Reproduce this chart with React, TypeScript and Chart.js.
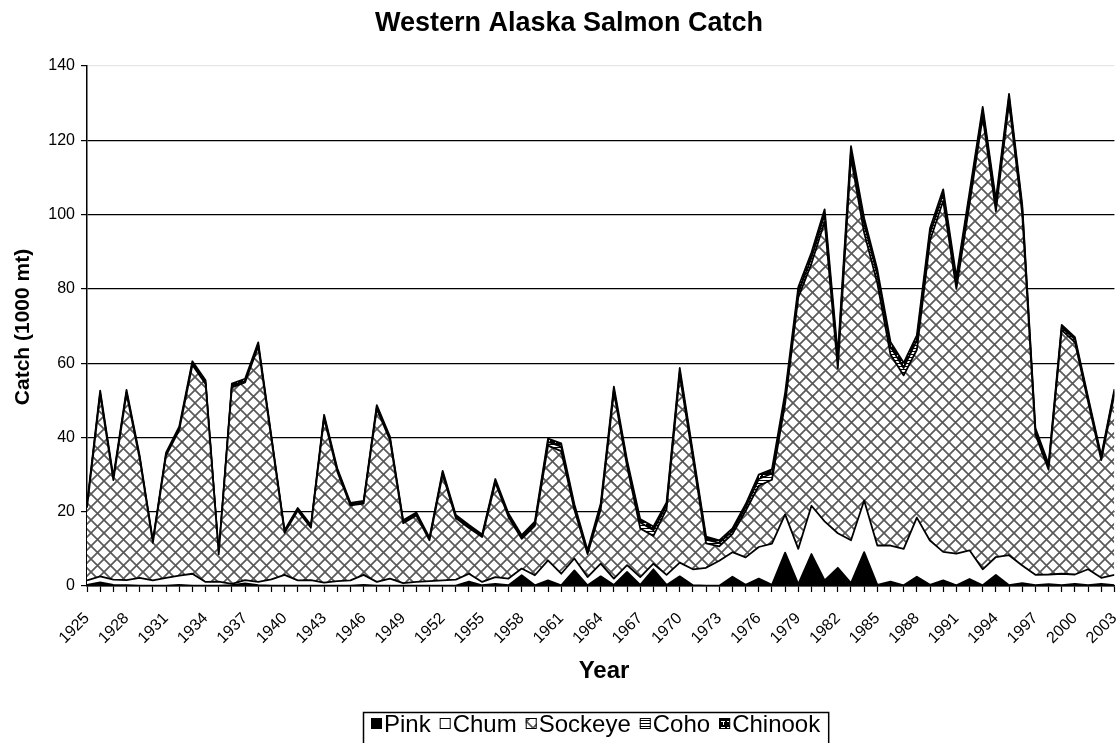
import { useEffect, useRef } from "react";
import { Chart, registerables } from "chart.js";

Chart.register(...registerables);

const TITLE = "Western Alaska Salmon Catch";
const X_TITLE = "Year";
const Y_TITLE = "Catch (1000 mt)";
const FONT = "Arial, 'Liberation Sans', Helvetica, sans-serif";

const years: number[] = [
  1925, 1926, 1927, 1928, 1929, 1930, 1931, 1932, 1933, 1934,
  1935, 1936, 1937, 1938, 1939, 1940, 1941, 1942, 1943, 1944,
  1945, 1946, 1947, 1948, 1949, 1950, 1951, 1952, 1953, 1954,
  1955, 1956, 1957, 1958, 1959, 1960, 1961, 1962, 1963, 1964,
  1965, 1966, 1967, 1968, 1969, 1970, 1971, 1972, 1973, 1974,
  1975, 1976, 1977, 1978, 1979, 1980, 1981, 1982, 1983, 1984,
  1985, 1986, 1987, 1988, 1989, 1990, 1991, 1992, 1993, 1994,
  1995, 1996, 1997, 1998, 1999, 2000, 2001, 2002, 2003,
];

const xTickLabels: string[] = [
  "1925", "1928", "1931", "1934", "1937", "1940", "1943", "1946", "1949",
  "1952", "1955", "1958", "1961", "1964", "1967", "1970", "1973", "1976",
  "1979", "1982", "1985", "1988", "1991", "1994", "1997", "2000", "2003",
];

const pink: number[] = [
  0.3, 1.0, 0.3, 0.2, 0.1, 0.1, 0.1, 0.3, 0.1, 0.1,
  0.1, 0.2, 0.7, 0.2, 0.1, 0.1, 0.1, 0.1, 0.1, 0.1,
  0.1, 0.3, 0.1, 0.1, 0.1, 0.1, 0.1, 0.1, 0.1, 1.2,
  0.2, 0.6, 0.2, 2.9, 0.2, 1.5, 0.2, 4.2, 0.2, 2.6,
  0.3, 3.8, 0.3, 4.5, 0.3, 2.6, 0.2, 0.1, 0.1, 2.5,
  0.3, 2.0, 0.3, 9.0, 0.5, 8.6, 1.5, 4.9, 0.8, 9.1,
  0.3, 1.2, 0.2, 2.5, 0.3, 1.5, 0.2, 1.9, 0.2, 3.0,
  0.2, 0.8, 0.2, 0.5, 0.2, 0.6, 0.2, 0.6, 0.2,
];

const chum: number[] = [
  1.2, 1.6, 1.4, 1.4, 2.1, 1.4, 2.1, 2.5, 3.2, 1.0,
  1.1, 0.4, 0.9, 0.9, 1.7, 2.9, 1.4, 1.5, 0.8, 1.2,
  1.4, 2.7, 1.0, 1.9, 0.7, 1.0, 1.2, 1.4, 1.6, 2.1,
  0.9, 1.8, 1.8, 1.8, 2.7, 5.4, 3.1, 3.2, 2.2, 3.4,
  1.7, 1.8, 2.1, 1.5, 2.7, 3.7, 4.3, 4.8, 6.7, 6.6,
  7.4, 8.5, 11.1, 10.3, 9.5, 13.0, 15.9, 9.3, 11.5, 13.9,
  10.6, 9.7, 9.8, 15.9, 11.9, 7.7, 8.5, 7.7, 4.3, 4.8,
  8.1, 4.7, 2.8, 2.6, 3.1, 2.5, 4.3, 1.6, 2.8,
];

const sockeye: number[] = [
  19.6, 48.9, 26.8, 50.2, 32.0, 10.1, 32.9, 39.2, 56.2, 53.3,
  7.3, 52.9, 53.2, 63.4, 37.7, 11.3, 18.8, 14.1, 44.2, 29.5,
  20.2, 19.2, 46.6, 37.3, 16.1, 17.9, 11.0, 28.5, 16.6, 12.3,
  12.1, 25.4, 16.6, 8.0, 13.3, 30.9, 33.0, 13.1, 6.2, 14.6,
  50.2, 26.6, 13.1, 7.5, 17.7, 50.5, 29.8, 6.6, 3.9, 4.9,
  12.5, 16.5, 17.2, 29.8, 67.7, 65.2, 80.7, 44.4, 103.0, 72.1,
  70.6, 51.4, 46.7, 45.2, 80.8, 94.5, 71.3, 93.2, 121.9, 93.1,
  121.8, 94.7, 37.8, 28.2, 65.6, 62.5, 45.1, 31.7, 48.6,
];

const coho: number[] = [
  0.3, 0.4, 0.3, 0.4, 0.3, 0.2, 0.3, 0.3, 0.4, 0.4,
  0.2, 0.4, 0.4, 0.4, 0.3, 0.3, 0.3, 0.3, 0.4, 0.4,
  0.3, 0.3, 0.4, 0.4, 0.4, 0.4, 0.3, 0.5, 0.4, 0.4,
  0.3, 0.5, 0.4, 0.5, 0.5, 1.0, 1.2, 0.7, 0.4, 0.8,
  0.6, 0.9, 1.6, 1.5, 1.0, 0.9, 0.8, 1.0, 0.9, 0.8,
  1.0, 1.8, 1.7, 1.5, 1.3, 1.6, 1.9, 2.2, 1.8, 2.4,
  2.3, 2.1, 2.0, 2.6, 2.0, 1.9, 2.0, 2.0, 1.6, 2.0,
  1.4, 1.6, 0.9, 0.8, 0.7, 0.8, 0.6, 0.7, 0.8,
];

const chinook: number[] = [
  0.6, 0.7, 0.6, 0.6, 0.5, 0.4, 0.5, 0.6, 0.6, 0.6,
  0.3, 0.6, 0.6, 0.7, 0.5, 0.4, 0.4, 0.4, 0.6, 0.5,
  0.4, 0.4, 0.6, 0.5, 0.4, 0.4, 0.4, 0.5, 0.4, 0.4,
  0.4, 0.5, 0.5, 0.5, 0.6, 0.9, 0.9, 0.8, 0.6, 0.8,
  0.9, 0.8, 0.9, 1.0, 0.8, 1.0, 0.9, 0.8, 0.7, 0.7,
  0.8, 1.2, 1.1, 1.4, 1.5, 1.4, 1.4, 1.6, 1.3, 1.5,
  1.4, 1.3, 1.4, 1.3, 1.3, 1.2, 1.2, 1.2, 1.0, 1.1,
  1.0, 0.9, 0.8, 0.7, 0.7, 0.6, 0.6, 0.5, 0.6,
];

const seriesNames = ["Pink", "Chum", "Sockeye", "Coho", "Chinook"];

function makeTile(w: number, h: number, draw: (g: CanvasRenderingContext2D) => void) {
  const c = document.createElement("canvas");
  c.width = w;
  c.height = h;
  const g = c.getContext("2d") as CanvasRenderingContext2D;
  draw(g);
  return c;
}

function makePatterns(ctx: CanvasRenderingContext2D) {
  const p = 13;
  const sock = makeTile(p, p, (g) => {
    g.fillStyle = "#ffffff";
    g.fillRect(0, 0, p, p);
    g.strokeStyle = "#5a5a5a";
    g.lineWidth = 1.7;
    for (const dx of [-p, 0, p]) {
      g.beginPath();
      g.moveTo(dx - 2, -2);
      g.lineTo(dx + p + 2, p + 2);
      g.moveTo(dx + p + 2, -2);
      g.lineTo(dx - 2, p + 2);
      g.stroke();
    }
  });
  const cohoT = makeTile(4, 3, (g) => {
    g.fillStyle = "#ffffff";
    g.fillRect(0, 0, 4, 3);
    g.fillStyle = "#000000";
    g.fillRect(0, 0, 4, 1);
  });
  const chinT = makeTile(6, 6, (g) => {
    g.fillStyle = "#000000";
    g.fillRect(0, 0, 6, 6);
    g.fillStyle = "#ffffff";
    g.fillRect(1, 1, 4, 1);
    g.fillRect(3, 2, 1, 3);
  });
  return [
    "#000000",
    "#ffffff",
    ctx.createPattern(sock, "repeat") as CanvasPattern,
    ctx.createPattern(cohoT, "repeat") as CanvasPattern,
    ctx.createPattern(chinT, "repeat") as CanvasPattern,
  ];
}

export default function App() {
  const ref = useRef<HTMLCanvasElement | null>(null);

  useEffect(() => {
    const canvas = ref.current as HTMLCanvasElement;
    const ctx0 = canvas.getContext("2d") as CanvasRenderingContext2D;
    const fills = makePatterns(ctx0);
    const seriesData = [pink, chum, sockeye, coho, chinook];

    const overlay = {
      id: "overlay",
      afterDraw(chart: any) {
        const ctx = chart.ctx as CanvasRenderingContext2D;
        ctx.save();
        ctx.fillStyle = "#000";
        ctx.textAlign = "center";
        ctx.textBaseline = "alphabetic";
        ctx.font = `bold 27px ${FONT}`;
        ctx.fillText(TITLE, 569, 31);
        ctx.font = `bold 24px ${FONT}`;
        ctx.fillText(X_TITLE, 604, 678);
        ctx.save();
        ctx.translate(29, 327);
        ctx.rotate(-Math.PI / 2);
        ctx.font = `bold 21px ${FONT}`;
        ctx.fillText(Y_TITLE, 0, 0);
        ctx.restore();

        // legend box (bottom edge falls below the visible page)
        ctx.font = `24px ${FONT}`;
        ctx.textAlign = "left";
        const icon = 11;
        const gapIconText = 2;
        const gapItems = 9;
        const boxL = 363;
        let x = boxL + 8;
        const ends: number[] = [];
        seriesNames.forEach((n, i) => {
          ctx.fillStyle = fills[i] as any;
          ctx.fillRect(x, 718, icon, icon);
          ctx.lineWidth = 1;
          ctx.strokeStyle = "#000";
          ctx.strokeRect(x + 0.5, 718.5, icon - 1, icon - 1);
          ctx.fillStyle = "#000";
          const tx = x + icon + gapIconText;
          ctx.fillText(n, tx, 732);
          const w = ctx.measureText(n).width;
          ends.push(tx + w);
          x = tx + w + gapItems;
        });
        const boxR = ends[ends.length - 1] + 8;
        ctx.lineWidth = 1.5;
        ctx.strokeStyle = "#000";
        ctx.strokeRect(boxL + 0.5, 712.5, boxR - boxL, 45);
        ctx.restore();
      },
    };

    const datasets = seriesNames.map((name, i) => ({
      label: name,
      data: years.map((yr, j) => ({ x: yr, y: seriesData[i][j] })),
      backgroundColor: fills[i],
      borderColor: "#000000",
      borderWidth: 1.8,
      borderJoinStyle: "round" as const,
      fill: i === 0 ? "origin" : "-1",
      pointRadius: 0,
      pointHoverRadius: 0,
      tension: 0,
    }));

    const chart = new Chart(canvas, {
      type: "line",
      data: { datasets },
      options: {
        responsive: false,
        animation: false,
        devicePixelRatio: 1,
        events: [],
        layout: { padding: { left: 0, right: 25, top: 66, bottom: 0 } },
        plugins: {
          legend: { display: false },
          tooltip: { enabled: false },
          title: { display: false },
        },
        scales: {
          x: {
            type: "linear",
            min: 1925,
            max: 2003,
            afterFit(scale: any) {
              scale.height = 157;
            },
            ticks: {
              stepSize: 1,
              autoSkip: false,
              maxRotation: 45,
              minRotation: 45,
              padding: 17,
              color: "#000",
              font: { family: FONT, size: 16 },
              callback: (v: any) => (xTickLabels.includes(String(v)) ? String(v) : ""),
            },
            grid: {
              drawOnChartArea: false,
              drawTicks: true,
              tickLength: 6,
              tickColor: "#000",
              tickWidth: 1.2,
            },
            border: { display: true, color: "#000", width: 1.5 },
          },
          y: {
            type: "linear",
            stacked: true,
            min: 0,
            max: 140,
            afterFit(scale: any) {
              scale.width = 87;
            },
            ticks: {
              stepSize: 20,
              padding: 6,
              color: "#000",
              font: { family: FONT, size: 16 },
            },
            grid: {
              color: (c: any) => (c.tick && c.tick.value === 140 ? "#e6e6e6" : "#000000"),
              lineWidth: 1.2,
              tickLength: 6,
              tickColor: "#000",
              tickWidth: 1.2,
            },
            border: { display: true, color: "#000", width: 1.5 },
          },
        },
      },
      plugins: [overlay],
    } as any);

    return () => chart.destroy();
  }, []);

  return (
    <div
      style={{
        position: "fixed",
        left: 0,
        top: 0,
        width: 1117,
        height: 743,
        overflow: "hidden",
        background: "#ffffff",
      }}
    >
      <div style={{ width: 1145, height: 743 }}>
        <canvas
          ref={ref}
          width={1145}
          height={743}
          style={{ display: "block", width: 1145, height: 743 }}
        />
      </div>
    </div>
  );
}
